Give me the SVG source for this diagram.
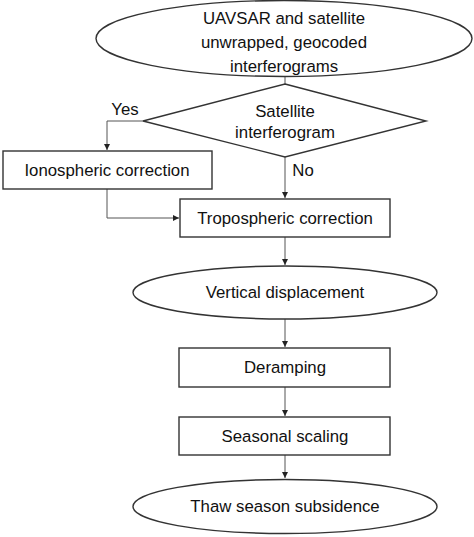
<svg xmlns="http://www.w3.org/2000/svg" width="474" height="537" viewBox="0 0 474 537">
<defs>
<marker id="arr" markerWidth="8" markerHeight="8" refX="6" refY="3" orient="auto" markerUnits="userSpaceOnUse">
<path d="M0,0 L6,3 L0,6 Z" fill="#222"/>
</marker>
<style>
.n{fill:#fff;stroke:#333;stroke-width:1.4}
.t{font-family:"Liberation Sans",Arial,sans-serif;font-size:16.8px;fill:#111;text-anchor:middle;dominant-baseline:central}
.c{fill:none;stroke:#555;stroke-width:1}
</style>
</defs>
<rect width="474" height="537" fill="#fff"/>
<g id="connectors">
<path class="c" d="M285,77 L285,84"/>
<path class="c" d="M143,121 L107,121 L107,150" marker-end="url(#arr)"/>
<path class="c" d="M285,157 L285,198" marker-end="url(#arr)"/>
<path class="c" d="M107,189 L107,218 L179,218" marker-end="url(#arr)"/>
<path class="c" d="M285,237 L285,265" marker-end="url(#arr)"/>
<path class="c" d="M285,319 L285,347" marker-end="url(#arr)"/>
<path class="c" d="M285,387 L285,416" marker-end="url(#arr)"/>
<path class="c" d="M285,455 L285,478" marker-end="url(#arr)"/>
<text class="t" x="125" y="109">Yes</text>
<text class="t" x="303" y="170">No</text>
</g>
<g id="start">
<ellipse class="n" cx="284" cy="38.5" rx="188" ry="38"/>
<text class="t" x="284" y="18">UAVSAR and satellite</text>
<text class="t" x="284" y="42">unwrapped, geocoded</text>
<text class="t" x="284" y="66">interferograms</text>
</g>
<g id="decision">
<polygon class="n" points="285,84 426,121 285,157 143,121"/>
<text class="t" x="285" y="111">Satellite</text>
<text class="t" x="285" y="132">interferogram</text>
</g>
<g id="iono">
<rect class="n" x="3" y="151" width="209" height="38"/>
<text class="t" x="107" y="170">Ionospheric correction</text>
</g>
<g id="tropo">
<rect class="n" x="180" y="199" width="210" height="38"/>
<text class="t" x="285" y="218">Tropospheric correction</text>
</g>
<g id="vertical">
<ellipse class="n" cx="285" cy="292.5" rx="152" ry="26.5"/>
<text class="t" x="285" y="292">Vertical displacement</text>
</g>
<g id="deramp">
<rect class="n" x="179" y="348" width="211" height="39"/>
<text class="t" x="285" y="367">Deramping</text>
</g>
<g id="seasonal">
<rect class="n" x="179" y="417" width="211" height="38"/>
<text class="t" x="285" y="436">Seasonal scaling</text>
</g>
<g id="thaw">
<ellipse class="n" cx="285" cy="506.5" rx="152" ry="27"/>
<text class="t" x="285" y="506">Thaw season subsidence</text>
</g>
</svg>
